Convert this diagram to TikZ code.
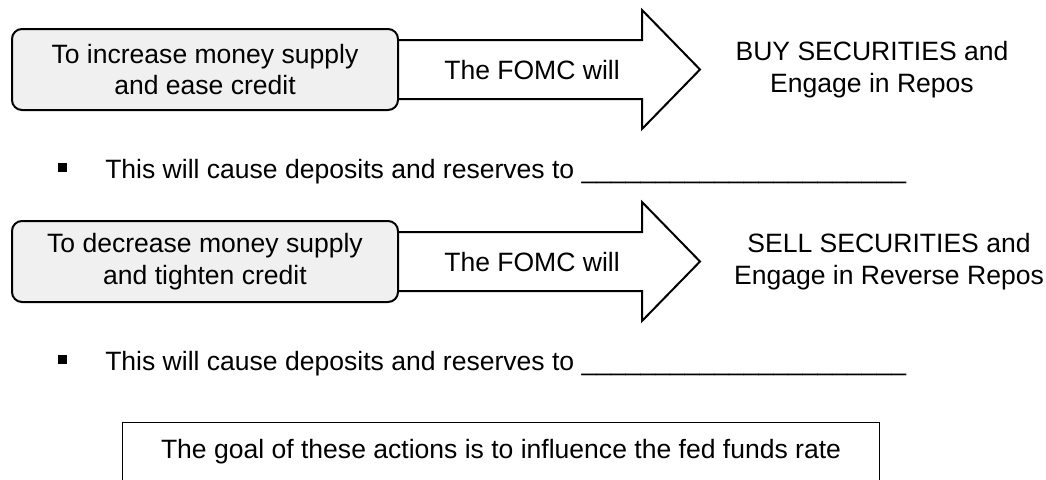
\documentclass[tikz,border=0pt]{standalone}
\usepackage{fontspec}
\setmainfont{Liberation Sans}
\usepackage{tikz}
\usetikzlibrary{positioning, backgrounds}
\definecolor{boxgray}{RGB}{240,240,240}

\begin{document}
\begin{tikzpicture}[
    x=0.75pt, y=-0.75pt,
    txt/.style={font=\fontsize{19.9}{23.6}\selectfont, align=center},
    aim/.style={txt, draw, line width=1.5pt, rounded corners=7.5pt, fill=boxgray, minimum width=289.5pt, minimum height=60.75pt, inner sep=0pt},
    fomc/.style={draw, line width=1.5pt, fill=white, line join=miter},
    result/.style={txt},
    bullet/.style={fill=black, minimum size=6.75pt, inner sep=0pt},
    blank/.style={txt, anchor=base west, inner sep=0pt},
    goal/.style={txt, minimum width=567pt, minimum height=43.5pt, inner sep=0pt},
  ]
  \useasboundingbox (0,0) rectangle (1046,479);
  % Increase
  \node[aim] (incr) at (205,69.5) {To increase money supply\\and ease credit};
  \node[txt] (incrwill) at (532,70.5) {The FOMC will};
  \node[result] (buy) at (872,69.5) {BUY SECURITIES and\\Engage in Repos};
  \node[bullet] (b1) at (62.5,167.5) {};
  \node[blank] (q1) at (105,178) {This will cause deposits and reserves to \_\_\_\_\_\_\_\_\_\_\_\_\_\_\_\_\_\_\_\_\_\_};
  % Decrease
  \node[aim] (decr) at (205,261.5) {To decrease money supply\\and tighten credit};
  \node[txt] (decrwill) at (532,262.5) {The FOMC will};
  \node[result] (sell) at (889,261.5) {SELL SECURITIES and\\Engage in Reverse Repos};
  \node[bullet] (b2) at (62.5,359.5) {};
  \node[blank] (q2) at (105,370) {This will cause deposits and reserves to \_\_\_\_\_\_\_\_\_\_\_\_\_\_\_\_\_\_\_\_\_\_};
  % Arrows behind the boxes
  \begin{scope}[on background layer]
    \draw[fomc] (incr.east) ++(-6,-29.5) -- ++(249,0) -- ++(0,-30) -- ++(58,59.5) -- ++(-58,59.5) -- ++(0,-30) -- ++(-249,0) -- cycle;
    \draw[fomc] (decr.east) ++(-6,-29.5) -- ++(249,0) -- ++(0,-30) -- ++(58,59.5) -- ++(-58,59.5) -- ++(0,-30) -- ++(-249,0) -- cycle;
  \end{scope}
  % Goal
  \node[goal] (aimtxt) at (501,452) {The goal of these actions is to influence the fed funds rate};
  \draw[line width=1pt] (aimtxt.south west) -- (aimtxt.north west) -- (aimtxt.north east) -- (aimtxt.south east);
\end{tikzpicture}
\end{document}
